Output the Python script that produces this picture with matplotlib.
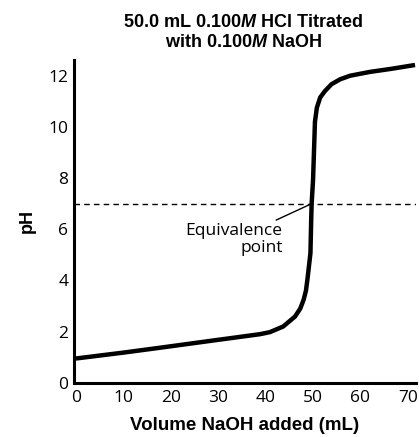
import matplotlib
matplotlib.use("Agg")
import matplotlib.pyplot as plt
import numpy as np

# Data
volume = [0, 10, 17.7, 30, 38.8, 40.9, 43.7, 46.2, 47.3, 48.0, 48.5, 48.8, 49.1, 49.45, 49.6, 49.7, 50.0, 50.4, 50.8, 51.5, 52.5, 53.9, 55.7, 57.8, 62.0, 66.5, 71.5]
ph = [0.95, 1.18, 1.37, 1.68, 1.9, 1.98, 2.2, 2.59, 2.9, 3.24, 3.6, 4.02, 4.5, 5.07, 6.3, 7.0, 7.93, 10.2, 10.75, 11.15, 11.4, 11.67, 11.86, 12.0, 12.15, 12.27, 12.42]
eq_volume = 49.7
eq_ph = 7.0
xticks = [0, 10, 20, 30, 40, 50, 60, 70]
yticks = [0, 2, 4, 6, 8, 10, 12]

plt.rcParams['font.family'] = ['Liberation Sans', 'DejaVu Sans']
plt.rcParams['mathtext.fontset'] = 'custom'
plt.rcParams['mathtext.bfit'] = 'Liberation Sans:italic:bold'
plt.rcParams['mathtext.it'] = 'Liberation Sans:italic'
plt.rcParams['mathtext.rm'] = 'Liberation Sans'
plt.rcParams['mathtext.bf'] = 'Liberation Sans:bold'

fig = plt.figure(figsize=(4.19, 4.37), dpi=100)
ax = fig.add_axes([0.1766, 0.124, 0.8162, 0.739])

ax.plot(volume, ph, color='black', lw=3.2, solid_capstyle='butt', solid_joinstyle='round')
ax.axhline(eq_ph, color='black', lw=1.0, ls=(0, (4, 3)))

ax.set_xlim(-0.4, 71.7)
ax.set_ylim(0, 12.62)
ax.set_xticks(xticks)
ax.set_yticks(yticks)
ax.tick_params(axis='x', length=0, labelsize=12.5, pad=5)
ax.tick_params(axis='y', length=0, labelsize=12.5, pad=4)
for lab in ax.get_xticklabels() + ax.get_yticklabels():
    lab.set_family(['Open Sans', 'DejaVu Sans'])
for s in ['top', 'right']:
    ax.spines[s].set_visible(False)
for s in ['left', 'bottom']:
    ax.spines[s].set_linewidth(2.2)

ax.set_xlabel('Volume NaOH added (mL)', fontsize=13.5, fontweight='bold', labelpad=8)
ax.set_ylabel('pH', fontsize=13, fontweight='bold', labelpad=9)

fig.text(0.580, 0.968, '50.0 mL 0.100$\\mathbfit{M}$ HCl Titrated\nwith 0.100$\\mathbfit{M}$ NaOH',
         ha='center', va='top', fontsize=13, fontweight='bold', linespacing=1.2)

ax.annotate('Equivalence\npoint', xy=(eq_volume, eq_ph), xytext=(43.6, 6.25),
            ha='right', va='top', fontsize=12.5, linespacing=1.1,
            family=['Open Sans', 'DejaVu Sans'],
            arrowprops=dict(arrowstyle='-', color='black', lw=1.0, shrinkA=0, shrinkB=0))

fig.savefig('out.png', dpi=100)
